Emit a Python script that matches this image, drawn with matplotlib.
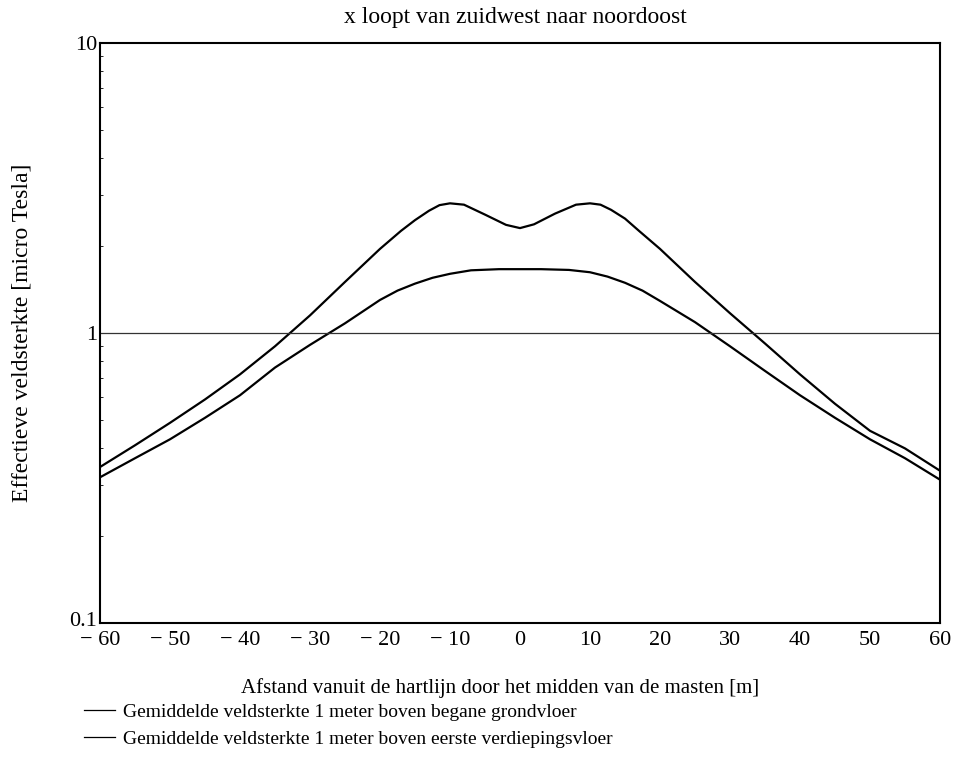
import matplotlib
matplotlib.use("Agg")
import matplotlib.pyplot as plt
import matplotlib.transforms as mtransforms
from matplotlib.ticker import FixedLocator, NullFormatter

plt.rcParams['font.family'] = ['Liberation Serif', 'DejaVu Serif']

title = "x loopt van zuidwest naar noordoost"
xlabel = "Afstand vanuit de hartlijn door het midden van de masten [m]"
ylabel = "Effectieve veldsterkte [micro Tesla]"
label_ground = "Gemiddelde veldsterkte 1 meter boven begane grondvloer"
label_first = "Gemiddelde veldsterkte 1 meter boven eerste verdiepingsvloer"

x_ground = [-60, -55, -50, -45, -40, -35, -30, -25, -20, -17.5, -15, -12.5, -10, -7, -3, 0,
            3, 7, 10, 12.5, 15, 17.5, 20, 25, 30, 35, 40, 45, 50, 55, 60]
y_ground = [0.318, 0.37, 0.43, 0.51, 0.61, 0.76, 0.91, 1.08, 1.30, 1.40, 1.48, 1.55, 1.60, 1.645, 1.66, 1.66,
            1.66, 1.65, 1.62, 1.565, 1.49, 1.40, 1.29, 1.09, 0.90, 0.74, 0.61, 0.51, 0.43, 0.37, 0.312]

x_first = [-60, -55, -50, -45, -40, -35, -30, -25, -20, -17, -15, -13, -11.5, -10, -8, -5, -2, 0,
           2, 5, 8, 10, 11.5, 13, 15, 17, 20, 25, 30, 35, 40, 45, 50, 55, 60]
y_first = [0.345, 0.41, 0.49, 0.59, 0.72, 0.90, 1.15, 1.50, 1.95, 2.25, 2.45, 2.64, 2.76, 2.80, 2.77, 2.56, 2.36, 2.30,
           2.37, 2.58, 2.77, 2.80, 2.77, 2.66, 2.48, 2.25, 1.95, 1.50, 1.17, 0.92, 0.72, 0.57, 0.46, 0.40, 0.335]

xticks = [-60, -50, -40, -30, -20, -10, 0, 10, 20, 30, 40, 50, 60]
xticklabels = ["\u2212 60", "\u2212 50", "\u2212 40", "\u2212 30", "\u2212 20", "\u2212 10", "0", "10", "20", "30", "40", "50", "60"]
yticks = [0.1, 1, 10]
yticklabels = ["0.1", "1", "10"]

fig = plt.figure(figsize=(9.6, 7.78), dpi=100)
ax = fig.add_axes([100/960, 1-623/778, 840/960, 580/778])

l1, = ax.plot(x_ground, y_ground, color='black', lw=1.6)
l2, = ax.plot(x_first, y_first, color='black', lw=1.6)
ax.axhline(1, color='#333333', lw=0.9)

ax.set_yscale('log')
ax.set_xlim(-60, 60)
ax.set_ylim(0.1, 10)
ax.set_xticks(xticks)
ax.set_xticklabels(xticklabels, fontsize=16)
ax.yaxis.set_major_locator(FixedLocator(yticks))
ax.set_yticklabels(yticklabels, fontsize=16)
ax.yaxis.set_minor_formatter(NullFormatter())
ax.tick_params(axis='x', length=0, pad=6)
ax.tick_params(axis='y', which='major', length=0, pad=2)
ax.tick_params(axis='y', which='minor', length=2, direction='in', width=0.6)
for s in ax.spines.values():
    s.set_linewidth(1.5)

# raise the lowest y tick label slightly, as in the reference
lbl = ax.get_yticklabels()[0]
lbl.set_transform(lbl.get_transform() + mtransforms.ScaledTranslation(0, 4/100, fig.dpi_scale_trans))

fig.text(515/960, 1-18/778, title, ha='center', va='center', fontsize=17)
fig.text(22/960, 1-333/778, ylabel, ha='center', va='center', rotation=90, fontsize=17)
fig.text(500/960, 1-688/778, xlabel, ha='center', va='center', fontsize=15)

fig.legend([l1, l2], [label_ground, label_first], loc='upper left',
           bbox_to_anchor=(84/960, 1-703/778), frameon=False, fontsize=14,
           handlelength=1.6, handletextpad=0.4, labelspacing=0.5,
           borderaxespad=0, borderpad=0)
for h in fig.legends[0].get_lines():
    h.set_linewidth(0.9)

fig.savefig("out.png", dpi=100)
